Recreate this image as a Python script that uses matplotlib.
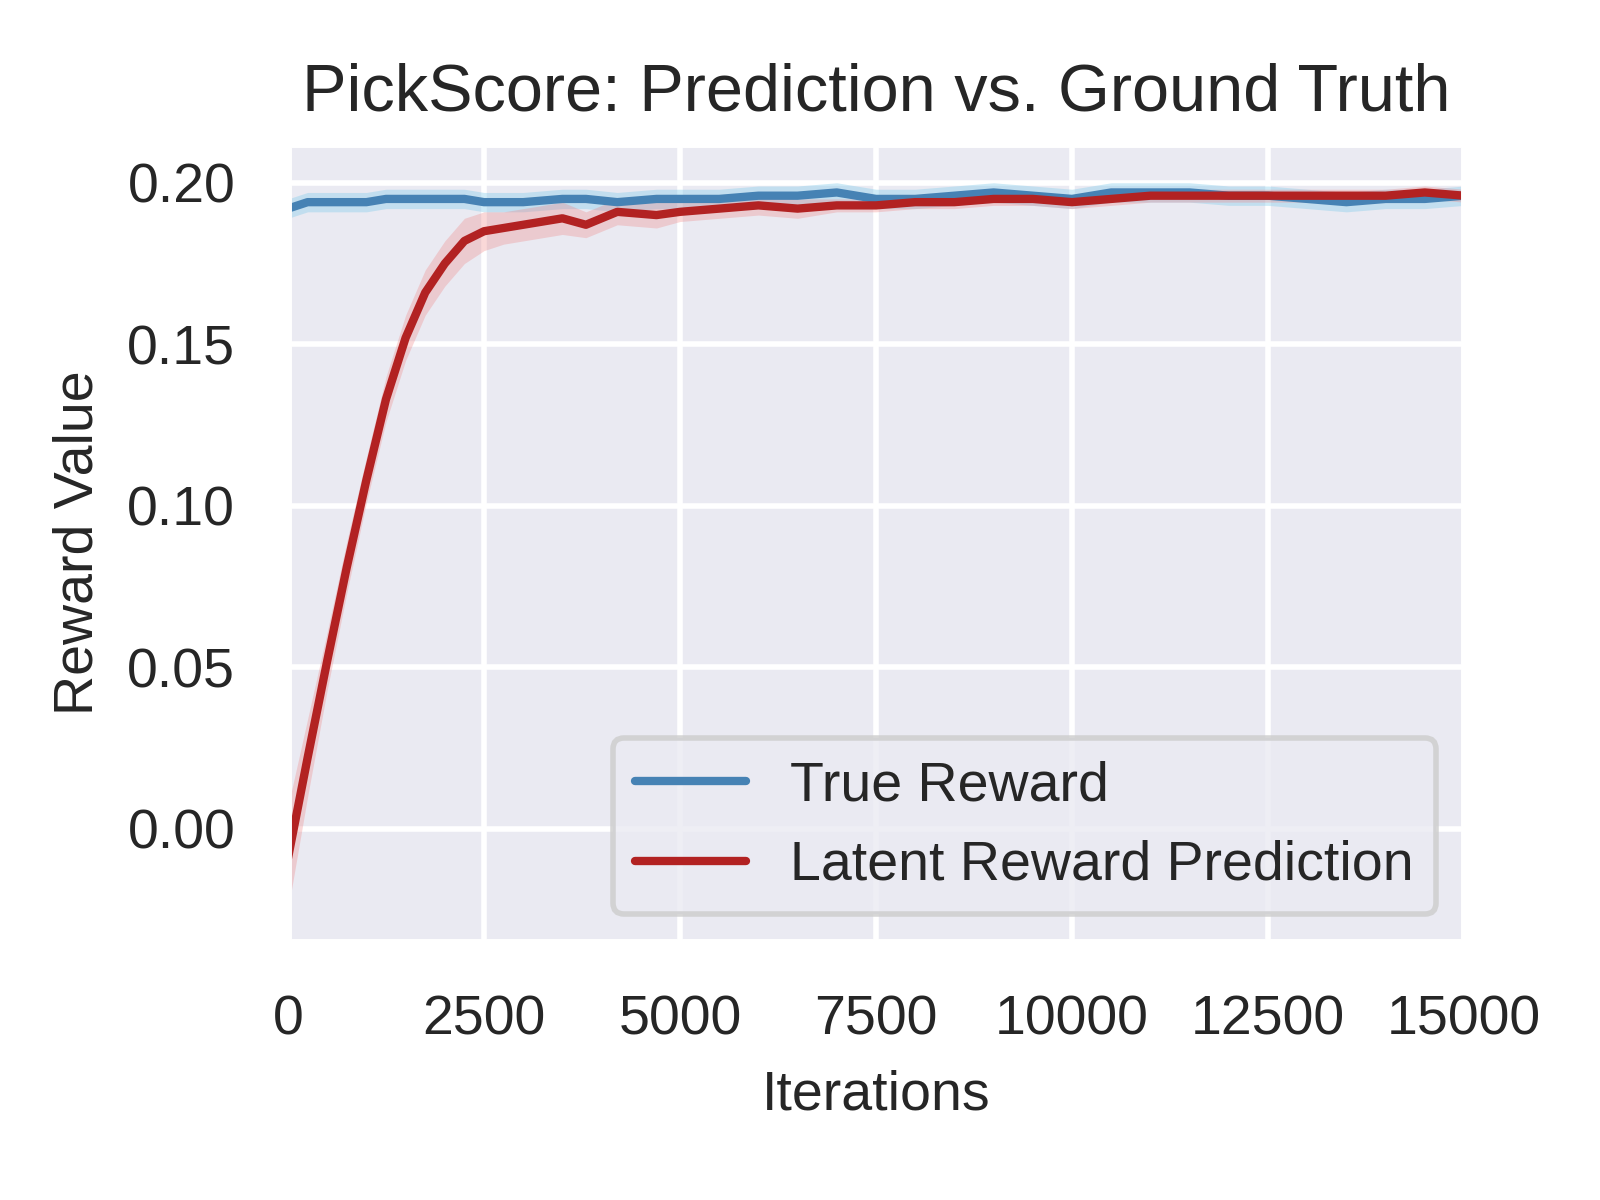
import matplotlib
matplotlib.use("Agg")
import matplotlib.pyplot as plt
import seaborn as sns
import numpy as np

sns.set_theme(style="darkgrid")
plt.rcParams['font.family'] = ['Liberation Sans', 'DejaVu Sans']

iters = [0, 250, 500, 750, 1000, 1250, 1500, 1750, 2000, 2250, 2500, 2750, 3000, 3500, 3800, 4200, 4700, 5000, 5500, 6000, 6500, 7000, 7500, 8000, 8500, 9000, 9500, 10000, 10500, 11000, 11500, 12000, 12500, 13000, 13500, 14000, 14500, 15000]
true_reward = [0.192, 0.194, 0.194, 0.194, 0.194, 0.195, 0.195, 0.195, 0.195, 0.195, 0.194, 0.194, 0.194, 0.195, 0.195, 0.194, 0.195, 0.195, 0.195, 0.196, 0.196, 0.197, 0.195, 0.195, 0.196, 0.197, 0.196, 0.195, 0.197, 0.197, 0.197, 0.196, 0.196, 0.195, 0.194, 0.195, 0.195, 0.196]
true_std = [0.003] * len(iters)
pred = [-0.009, 0.022, 0.052, 0.081, 0.108, 0.133, 0.152, 0.166, 0.175, 0.182, 0.185, 0.186, 0.187, 0.189, 0.187, 0.191, 0.190, 0.191, 0.192, 0.193, 0.192, 0.193, 0.193, 0.194, 0.194, 0.195, 0.195, 0.194, 0.195, 0.196, 0.196, 0.196, 0.196, 0.196, 0.196, 0.196, 0.197, 0.196]
pred_std = [0.016, 0.012, 0.009, 0.008, 0.007, 0.007, 0.007, 0.007, 0.007, 0.007, 0.006, 0.005, 0.005, 0.005, 0.004, 0.004, 0.004, 0.003, 0.003, 0.003, 0.003, 0.002, 0.002, 0.002, 0.002, 0.002, 0.002, 0.002, 0.002, 0.002, 0.002, 0.002, 0.002, 0.002, 0.002, 0.002, 0.002, 0.002]

x = np.array(iters)
t = np.array(true_reward); ts = np.array(true_std)
p = np.array(pred); ps = np.array(pred_std)

fig, ax = plt.subplots(figsize=(4, 3), dpi=400)
ax.fill_between(x, t - ts, t + ts, color='skyblue', alpha=0.4, lw=0)
ax.fill_between(x, p - ps, p + ps, color='lightcoral', alpha=0.3, lw=0)
ax.plot(x, t, color='steelblue', lw=1.5, label='True Reward')
ax.plot(x, p, color='firebrick', lw=1.5, label='Latent Reward Prediction')
ax.set_xlim(0, 15000)
ax.set_ylim(-0.035, 0.212)
ax.set_title('PickScore: Prediction vs. Ground Truth', fontsize=12)
ax.set_xlabel('Iterations', fontsize=10)
ax.set_ylabel('Reward Value', fontsize=10)
ax.tick_params(labelsize=10)
ax.legend(loc='lower right', fontsize=10)
fig.subplots_adjust(left=0.18, right=0.915, top=0.88, bottom=0.215)
fig.savefig('out.png')
